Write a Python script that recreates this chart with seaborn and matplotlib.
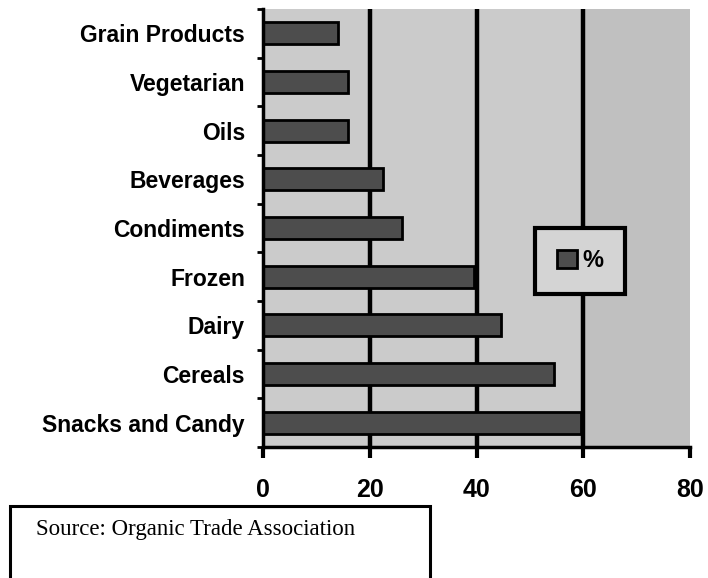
import matplotlib
matplotlib.use("Agg")
import matplotlib.pyplot as plt
import seaborn as sns
import pandas as pd
import numpy as np

categories = ["Grain Products", "Vegetarian", "Oils", "Beverages", "Condiments",
              "Frozen", "Dairy", "Cereals", "Snacks and Candy"]
values = [14, 16, 16, 22.5, 26, 39.5, 44.5, 54.5, 59.5]
x_ticks = [0, 20, 40, 60, 80]
series_name = "%"
source_text = "Source: Organic Trade Association"

df = pd.DataFrame({"category": categories, "value": values, "series": series_name})

sns.set_theme(style="white")
plt.rcParams['font.family'] = ['Liberation Sans', 'DejaVu Sans']

fig = plt.figure(figsize=(7.08, 5.78), dpi=100)
ax = fig.add_axes([263/708, 1-447/578, (690-263)/708, (447-9)/578])
ax.set_facecolor("#cbcbcb")

sns.barplot(data=df, x="value", y="category", hue="series", order=categories,
            palette=["#4d4d4d"], edgecolor="black", linewidth=2.0, width=0.45,
            orient="h", ax=ax, zorder=3, legend=True)

ax.set_xlim(0, 80)
ax.set_ylim(len(categories) - 0.5, -0.5)
ax.axvspan(60, 80, color="#c0c0c0", zorder=0, lw=0)
for v in x_ticks[1:-1]:
    ax.axvline(v, color="black", lw=3.2, zorder=2)

ax.set_xticks(x_ticks)
ax.set_xticklabels([str(t) for t in x_ticks], fontsize=18, fontweight="bold", color="black")
ax.set_yticks(range(len(categories)))
ax.set_yticklabels(categories, fontsize=16.5, fontweight="bold", color="black")
ax.set_yticks(np.arange(-0.5, len(categories), 1.0), minor=True)
ax.tick_params(axis="y", which="major", length=0, pad=13)
ax.tick_params(axis="y", which="minor", length=4, width=2, color="black", direction="out", left=True)
ax.tick_params(axis="x", which="major", length=8, width=3, color="black", direction="out", pad=14, bottom=True)
ax.set_xlabel("")
ax.set_ylabel("")

for s in ["top", "right"]:
    ax.spines[s].set_visible(False)
for s in ["left", "bottom"]:
    ax.spines[s].set_color("black")
    ax.spines[s].set_linewidth(2.5)
    ax.spines[s].set_zorder(5)

leg = ax.legend(loc="center", bbox_to_anchor=(580/708, 1-261/578),
                bbox_transform=fig.transFigure, frameon=True, fancybox=False,
                prop={"weight": "bold", "size": 17}, handlelength=0.85, handleheight=0.8,
                handletextpad=0.25, borderpad=0.9)
leg.get_frame().set_edgecolor("black")
leg.get_frame().set_linewidth(3)
leg.get_frame().set_facecolor("#d4d4d4")
leg.get_frame().set_alpha(1)
for t in leg.get_texts():
    t.set_color("black")

# source box
fig.patches.append(plt.Rectangle((10/708, -0.02), (430-10)/708, 0.02 + (578-506)/578,
                                 transform=fig.transFigure, fill=False,
                                 edgecolor="black", linewidth=2.2))
fig.text(36/708, 1-530/578, source_text, family=["Liberation Serif", "DejaVu Serif"],
         fontsize=16.5, va="center", ha="left", color="black")

fig.savefig("out.png", dpi=100)
